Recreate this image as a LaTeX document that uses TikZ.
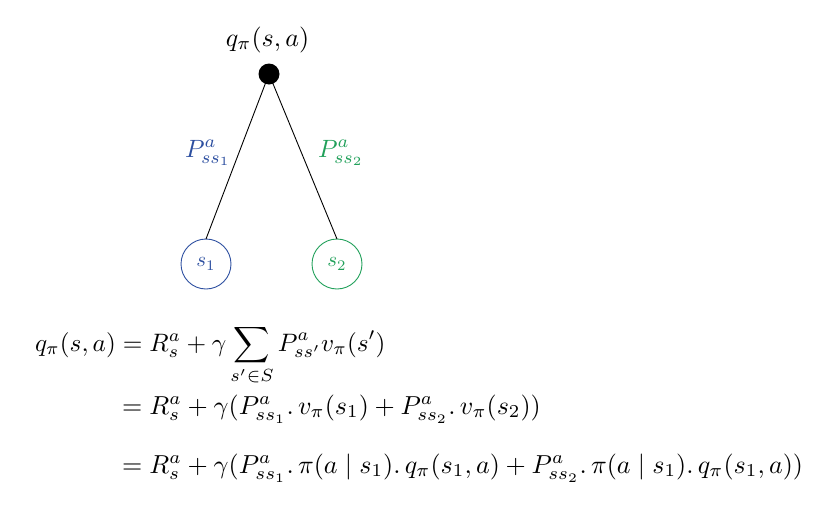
\documentclass[tikz,border=0pt]{standalone}
\usepackage{graphicx}
\usepackage{amsmath}
\definecolor{sblue}{HTML}{2D4FA0}
\definecolor{sgreen}{HTML}{21A05A}
\newcommand{\mysz}[1]{\scalebox{2.6}{#1}}
\newcommand{\myfirst}[1]{\scalebox{2.52}{#1}}
\newcommand{\mylbl}[1]{\scalebox{2.5}{#1}}
\newcommand{\mystate}[1]{\scalebox{2.1}{#1}}
\begin{document}
\begin{tikzpicture}[x=1pt,y=-1pt,
  every node/.style={inner sep=0pt,outer sep=0pt},
  statecirc/.style={circle,draw,line width=0.9pt,minimum size=50pt},
  rootdot/.style={circle,fill=black,minimum size=21pt},
  edge/.style={line width=0.9pt}]
\useasboundingbox (0,0) rectangle (815,509);
\node[rootdot] (root) at (269,74) {};
\node[anchor=base] (rootlbl) at (267.5,46) {\mysz{$q_\pi(s,a)$}};
\node[statecirc,draw=sblue,text=sblue] (s1) at (206,264) {\mystate{$s_1$}};
\node[statecirc,draw=sgreen,text=sgreen] (s2) at (337,264) {\mystate{$s_2$}};
\draw[edge] (root.center) -- (s1.north);
\draw[edge] (root.center) -- (s2.north);
\node[text=sblue,anchor=base west] (p1) at (185,157) {\mylbl{$P^a_{ss_1}$}};
\node[text=sgreen,anchor=base west] (p2) at (318,157) {\mylbl{$P^a_{ss_2}$}};
\node[anchor=base west] (eq1) at (35,351) {\myfirst{$q_\pi(s,a) = R^a_s + \gamma \displaystyle\sum_{s'\in S} P^a_{ss'} v_\pi(s')$}};
\node[anchor=base west] (eq2) at (122,414) {\mysz{$= R^a_s + \gamma(P^a_{ss_1}.\, v_\pi(s_1) + P^a_{ss_2}.\, v_\pi(s_2))$}};
\node[anchor=base west] (eq3) at (122,473) {\mysz{$= R^a_s + \gamma(P^a_{ss_1}.\, \pi(a\mid s_1).\, q_\pi(s_1,a) + P^a_{ss_2}.\, \pi(a\mid s_1).\, q_\pi(s_1,a))$}};
\end{tikzpicture}
\end{document}
